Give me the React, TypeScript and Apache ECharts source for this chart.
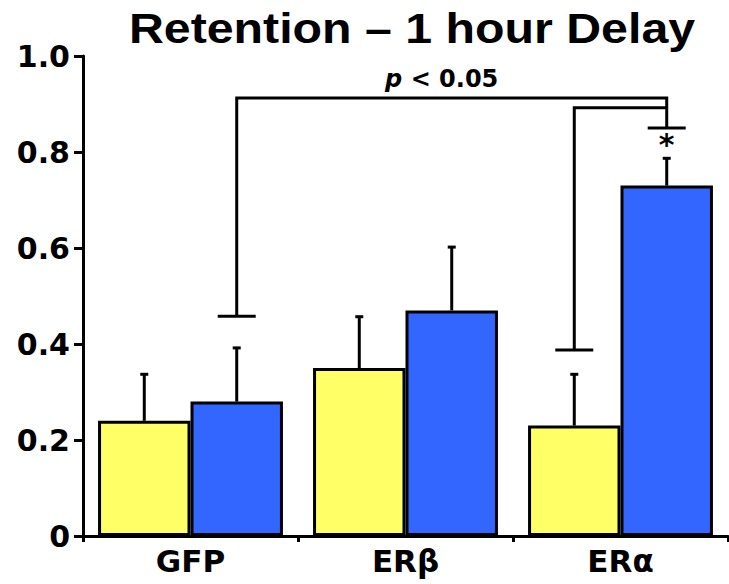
import React, { useEffect, useRef } from "react";
import * as echarts from "echarts";

const categories = ["GFP", "ERβ", "ERα"];
const yellowValues = [0.24, 0.35, 0.23];
const blueValues = [0.28, 0.47, 0.73];
const yellowUpper = [0.34, 0.46, 0.34];
const blueUpper = [0.395, 0.605, 0.79];
const yTickFormatter = (v: number) => (v === 0 ? "0" : v.toFixed(1));
const titleText = "Retention – 1 hour Delay";

// significance brackets: [category, side(0 = yellow, 1 = blue)]
const bracketFrom = [[0, 1], [2, 0]];
const bracketTo = [[2, 1], [2, 1]];
const bracketFromFoot = [0.458, 0.3875];
const bracketToFoot = [0.85, null];
const bracketTop = [0.9125, 0.892];
const bracketLabel = ["p < 0.05", ""];
const starCategory = [2];
const starSide = [1];
const starValue = [0.82];

const FONT = "DejaVu Sans";
const BAR_FRAC = 0.43;
const YELLOW = "#FFFF66";
const BLUE = "#3366FF";

function sideX(api: any, cat: number, side: number) {
  const cx = api.coord([cat, 0])[0];
  const cw = api.size([1, 0])[0];
  const bw = cw * BAR_FRAC;
  return cx + (side === 0 ? -bw / 2 : bw / 2);
}

export default function App() {
  const ref = useRef<HTMLDivElement>(null);
  useEffect(() => {
    if (!ref.current) return;
    const chart = echarts.init(ref.current, undefined, { renderer: "svg" });
    const lineStyle = { stroke: "#000", lineWidth: 3, fill: null };
    chart.setOption({
      animation: false,
      backgroundColor: "#fff",
      graphic: [
        {
          type: "text",
          x: 412,
          y: 28.5,
          scaleX: 1.15,
          style: {
            text: titleText,
            fontFamily: "Liberation Sans",
            fontWeight: "bold",
            fontSize: 42,
            fill: "#000",
            textAlign: "center",
            textVerticalAlign: "middle",
            align: "center",
            verticalAlign: "middle",
          },
        },
      ],
      grid: { left: 83, top: 56, width: 645, height: 480, containLabel: false },
      xAxis: {
        type: "category",
        data: categories,
        axisLine: { lineStyle: { color: "#000", width: 3 } },
        axisTick: { show: true, length: 6, lineStyle: { color: "#000", width: 3 } },
        axisLabel: { fontFamily: FONT, fontWeight: "bold", fontSize: 31, color: "#000", margin: 9 },
      },
      yAxis: {
        type: "value",
        min: 0,
        max: 1,
        interval: 0.2,
        splitLine: { show: false },
        axisLine: { show: true, lineStyle: { color: "#000", width: 3 } },
        axisTick: { show: true, length: 9, lineStyle: { color: "#000", width: 3 } },
        axisLabel: {
          formatter: yTickFormatter,
          fontFamily: FONT,
          fontWeight: "bold",
          fontSize: 30,
          color: "#000",
          margin: 13,
        },
      },
      series: [
        {
          type: "bar",
          data: yellowValues,
          barWidth: "43%",
          barGap: "0%",
          itemStyle: { color: YELLOW, borderColor: "#000", borderWidth: 3 },
        },
        {
          type: "bar",
          data: blueValues,
          barWidth: "43%",
          barGap: "0%",
          itemStyle: { color: BLUE, borderColor: "#000", borderWidth: 3 },
        },
        {
          type: "custom",
          z: 1,
          clip: false,
          data: categories.map((_, i) => [i, yellowValues[i], yellowUpper[i], blueValues[i], blueUpper[i]]),
          renderItem: (params: any, api: any) => {
            const i = api.value(0);
            const children: any[] = [];
            [0, 1].forEach((side) => {
              const x = sideX(api, i, side);
              const v = api.value(side === 0 ? 1 : 3);
              const u = api.value(side === 0 ? 2 : 4);
              const y0 = api.coord([i, v])[1];
              const y1 = api.coord([i, u])[1];
              children.push({ type: "line", shape: { x1: x, y1: y0, x2: x, y2: y1 + 1.5 }, style: lineStyle });
              children.push({ type: "line", shape: { x1: x - 4, y1: y1 + 1.5, x2: x + 4, y2: y1 + 1.5 }, style: lineStyle });
            });
            return { type: "group", children };
          },
        },
        {
          type: "custom",
          z: 3,
          clip: false,
          data: bracketTop.map((t, i) => [bracketFrom[i][0], t]),
          renderItem: (params: any, api: any) => {
            const i = params.dataIndex;
            const children: any[] = [];
            const xa = sideX(api, bracketFrom[i][0], bracketFrom[i][1]);
            const xb = sideX(api, bracketTo[i][0], bracketTo[i][1]);
            const yTop = api.coord([0, bracketTop[i]])[1];
            const yFa = api.coord([0, bracketFromFoot[i]])[1];
            const pts: number[][] = [[xa, yFa], [xa, yTop], [xb, yTop]];
            const tf = bracketToFoot[i];
            if (tf !== null) {
              const yFb = api.coord([0, tf])[1];
              pts.push([xb, yFb]);
              children.push({ type: "line", shape: { x1: xb - 19, y1: yFb, x2: xb + 19, y2: yFb }, style: lineStyle });
            }
            children.push({ type: "polyline", shape: { points: pts }, style: lineStyle });
            children.push({ type: "line", shape: { x1: xa - 19, y1: yFa, x2: xa + 19, y2: yFa }, style: lineStyle });
            if (bracketLabel[i]) {
              const parts = bracketLabel[i].split(" ");
              children.push({
                type: "text",
                style: {
                  x: (xa + xb) / 2 - 10,
                  y: yTop - 7,
                  text: "{i|" + parts[0] + "} " + parts.slice(1).join(" "),
                  rich: { i: { fontStyle: "italic", fontWeight: "bold", fontFamily: FONT, fontSize: 24, fill: "#000" } },
                  fontFamily: FONT,
                  fontWeight: "bold",
                  fontSize: 24,
                  fill: "#000",
                  textAlign: "center",
                  textVerticalAlign: "bottom",
                  align: "center",
                  verticalAlign: "bottom",
                },
              });
            }
            if (i === 0) {
              starCategory.forEach((c, k) => {
                children.push({
                  type: "text",
                  style: {
                    x: sideX(api, c, starSide[k]),
                    y: api.coord([0, starValue[k]])[1] + 2,
                    text: "*",
                    fontFamily: FONT,
                    fontWeight: "bold",
                    fontSize: 30,
                    fill: "#000",
                    textAlign: "center",
                    textVerticalAlign: "middle",
                    align: "center",
                    verticalAlign: "middle",
                  },
                });
              });
            }
            return { type: "group", children };
          },
        },
      ],
    });
    return () => chart.dispose();
  }, []);
  return (
    <div
      ref={ref}
      style={{ position: "fixed", left: 0, top: 0, width: 729, height: 584, background: "#fff" }}
    />
  );
}
